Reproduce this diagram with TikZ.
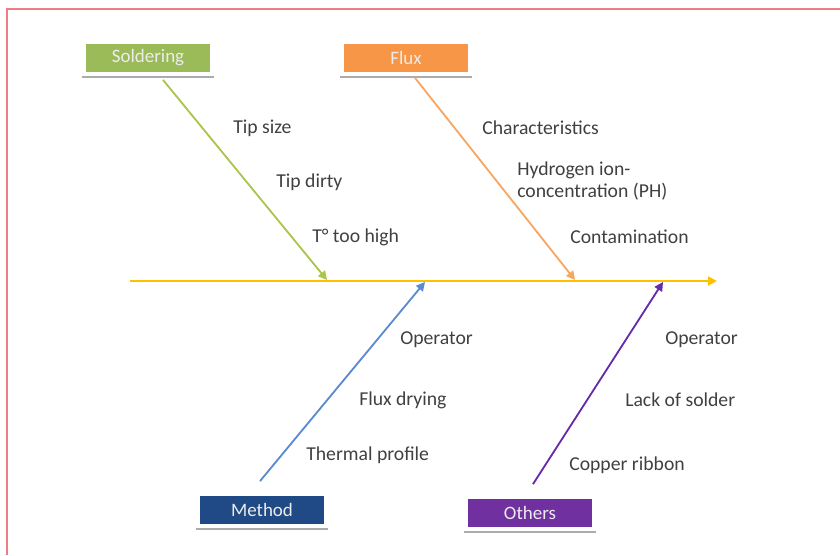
\documentclass[tikz,border=0pt]{standalone}
\usepackage{fontspec}
\setmainfont{Carlito}
\usetikzlibrary{arrows.meta,positioning}
\usepackage{xcolor}
\definecolor{soldgreen}{HTML}{9BBB59}
\definecolor{fluxorange}{HTML}{F79646}
\definecolor{methblue}{HTML}{1F4A86}
\definecolor{methline}{HTML}{5A8AD0}
\definecolor{othpurple}{HTML}{7030A0}
\definecolor{spineyellow}{HTML}{FFC000}
\definecolor{framered}{HTML}{EE7C84}

\begin{document}
\begin{tikzpicture}[x=0.025cm, y=-0.025cm,
      catbox/.style={minimum width=3.1cm, minimum height=0.68cm, inner sep=0pt,
                     text=white!85!gray, font=\fontsize{13.5}{15}\selectfont},
      shadowline/.style={draw=gray!65, line width=1.8pt},
      bone/.style={-{Triangle[length=2.2mm, width=2.2mm]}, line width=1.3pt},
      cause/.style={anchor=west, inner sep=0pt, text=black!75,
                    font=\fontsize{14}{16}\selectfont, align=left},
    ]
    \useasboundingbox (0,0) rectangle (840,555);
    % frame
    \draw[framered, line width=1pt] (7,555) -- (7,9) -- (840,9);

    % Category boxes
    \node[catbox, fill=soldgreen] (sold) at (148,58) {Soldering};
    \node[catbox, fill=fluxorange] (flux) at (406,58) {Flux};
    \node[catbox, fill=methblue] (meth) at (262,510) {Method};
    \node[catbox, fill=othpurple] (oth) at (530,513) {Others};
    \foreach \b in {sold, flux, meth, oth}
      \draw[shadowline] ([shift={(-4,5)}]\b.south west) -- ([shift={(4,5)}]\b.south east);

    % Spine
    \coordinate (tail) at (130,281);
    \coordinate (head) at (717,281);
    \draw[bone, draw=spineyellow, fill=spineyellow, line width=1.6pt] (tail) -- (head);

    % Bones
    \coordinate (hsold) at (327,280);
    \coordinate (hflux) at (575,280);
    \coordinate (hmeth) at (425,282);
    \coordinate (hoth) at (663,282);
    \draw[bone, draw=soldgreen!85!yellow] ([shift={(15,8)}]sold.south) -- (hsold);
    \draw[bone, draw=fluxorange!85!white] ([shift={(9,6)}]flux.south) -- (hflux);
    \draw[bone, draw=methline] ([shift={(-2,-15)}]meth.north) -- (hmeth);
    \draw[bone, draw=othpurple!90!blue] ([shift={(3,-15)}]oth.north) -- (hoth);

    % Causes
    \node[cause] (tipsize) at (233,128) {Tip size};
    \node[cause] (tipdirty) at (276,182) {Tip dirty};
    \node[cause] (temp) at (312,237) {T\textdegree{} too high};
    \node[cause] (charac) at (482,128) {Characteristics};
    \node[cause] (hydro) at (517,181) {Hydrogen ion-\\concentration (PH)};
    \node[cause] (contam) at (570,237) {Contamination};
    \node[cause] (oper1) at (400,340) {Operator};
    \node[cause] (fluxdry) at (359,400) {Flux drying};
    \node[cause] (thermal) at (306,455) {Thermal profile};
    \node[cause] (oper2) at (665,340) {Operator};
    \node[cause] (lack) at (625,400) {Lack of solder};
    \node[cause] (copper) at (569,465) {Copper ribbon};
  \end{tikzpicture}
\end{document}
